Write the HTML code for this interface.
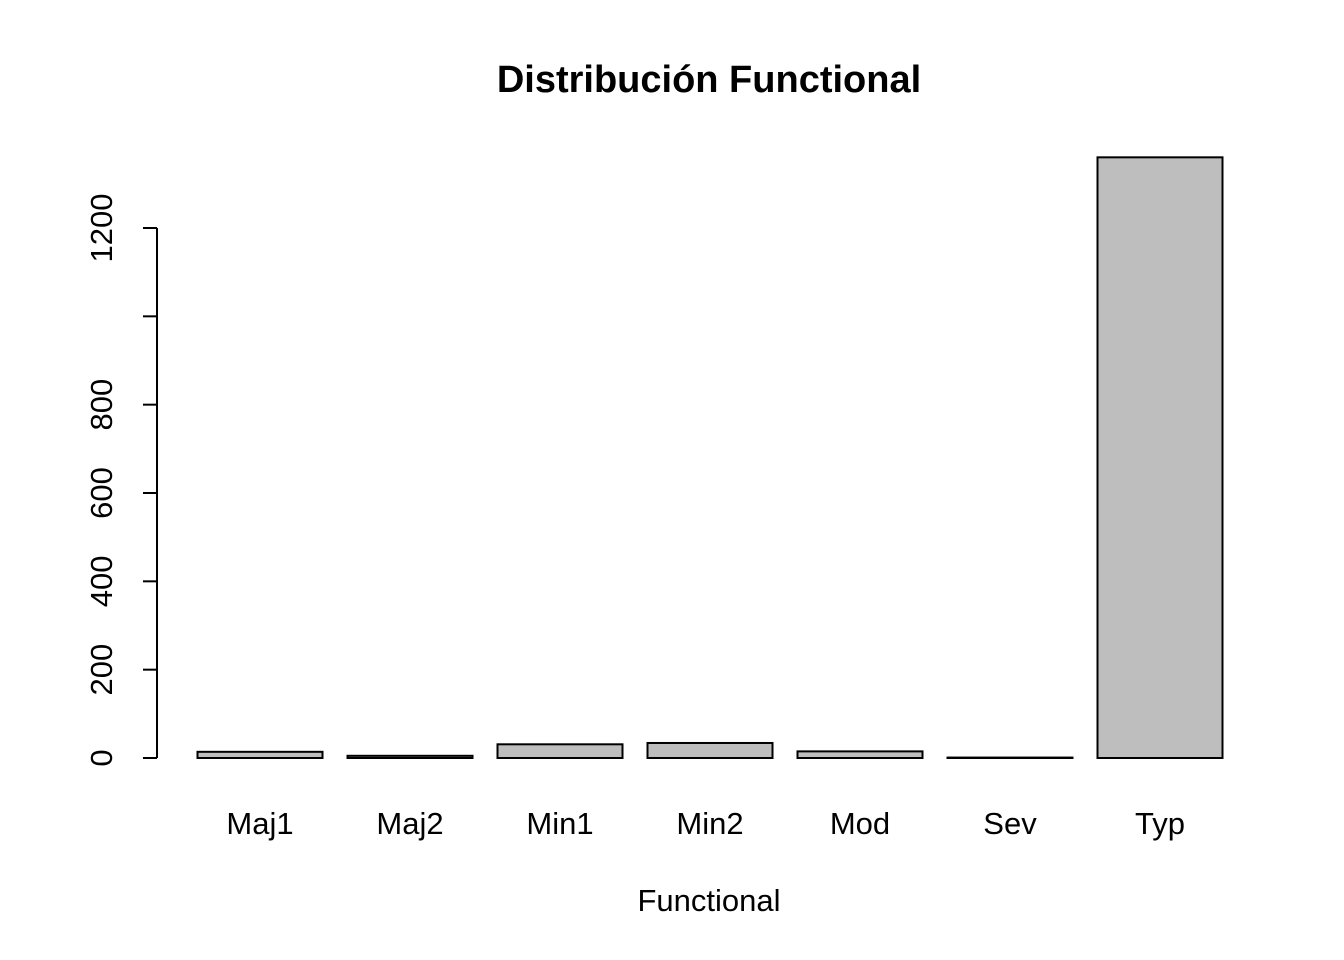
<!DOCTYPE html>
<html><head><meta charset="utf-8"><style>html,body{margin:0;padding:0;background:#fff}svg{display:block}text{font-family:"Liberation Sans",Arial,sans-serif}</style></head>
<body>
<svg id="chart" width="1344" height="960" xmlns="http://www.w3.org/2000/svg">
<text x="709" y="92" text-anchor="middle" font-size="38" font-weight="bold">Distribución Functional</text>
<text x="709" y="911" text-anchor="middle" font-size="31">Functional</text>
<g id="bars"></g>
<g id="yaxis"></g>
</svg>
<script>
const categories = ["Maj1","Maj2","Min1","Min2","Mod","Sev","Typ"];
const counts = [14,5,31,34,15,1,1360];
const yTicks = [0,200,400,600,800,1000,1200];
const yTickLabels = ["0","200","400","600","800","","1200"];
const NS="http://www.w3.org/2000/svg";
const y0=758, pxPer=530/1200;
const y=v=>y0-v*pxPer;
const x=i=>197.5+i*150;
const bw=125;
const bars=document.getElementById('bars');
categories.forEach((c,i)=>{
  const r=document.createElementNS(NS,'rect');
  
  
  r.setAttribute('x',x(i));r.setAttribute('y',y(counts[i]));
  r.setAttribute('width',bw);r.setAttribute('height',counts[i]*pxPer);
  r.setAttribute('fill','#bebebe');r.setAttribute('stroke','#000');r.setAttribute('stroke-width','2');
  bars.appendChild(r);
  const t=document.createElementNS(NS,'text');
  
  
  t.setAttribute('x',x(i)+bw/2);t.setAttribute('y',834);
  t.setAttribute('text-anchor','middle');t.setAttribute('font-size','31');
  t.textContent=c;bars.appendChild(t);
});
const ax=document.getElementById('yaxis');
const l=document.createElementNS(NS,'line');


l.setAttribute('x1',157);l.setAttribute('x2',157);l.setAttribute('y1',y(yTicks[0]));l.setAttribute('y2',y(yTicks[yTicks.length-1]));
l.setAttribute('stroke','#000');l.setAttribute('stroke-width','2');ax.appendChild(l);
yTicks.forEach((v,i)=>{
  const tk=document.createElementNS(NS,'line');
  
  
  tk.setAttribute('x1',143);tk.setAttribute('x2',157);tk.setAttribute('y1',y(v));tk.setAttribute('y2',y(v));
  tk.setAttribute('stroke','#000');tk.setAttribute('stroke-width','2');ax.appendChild(tk);
  if(yTickLabels[i]){
    const t=document.createElementNS(NS,'text');
    
    
    t.setAttribute('transform','translate(112,'+y(v)+') rotate(-90)');
    t.setAttribute('text-anchor','middle');t.setAttribute('font-size','31');
    t.textContent=yTickLabels[i];ax.appendChild(t);
  }
});
</script>
</body></html>
